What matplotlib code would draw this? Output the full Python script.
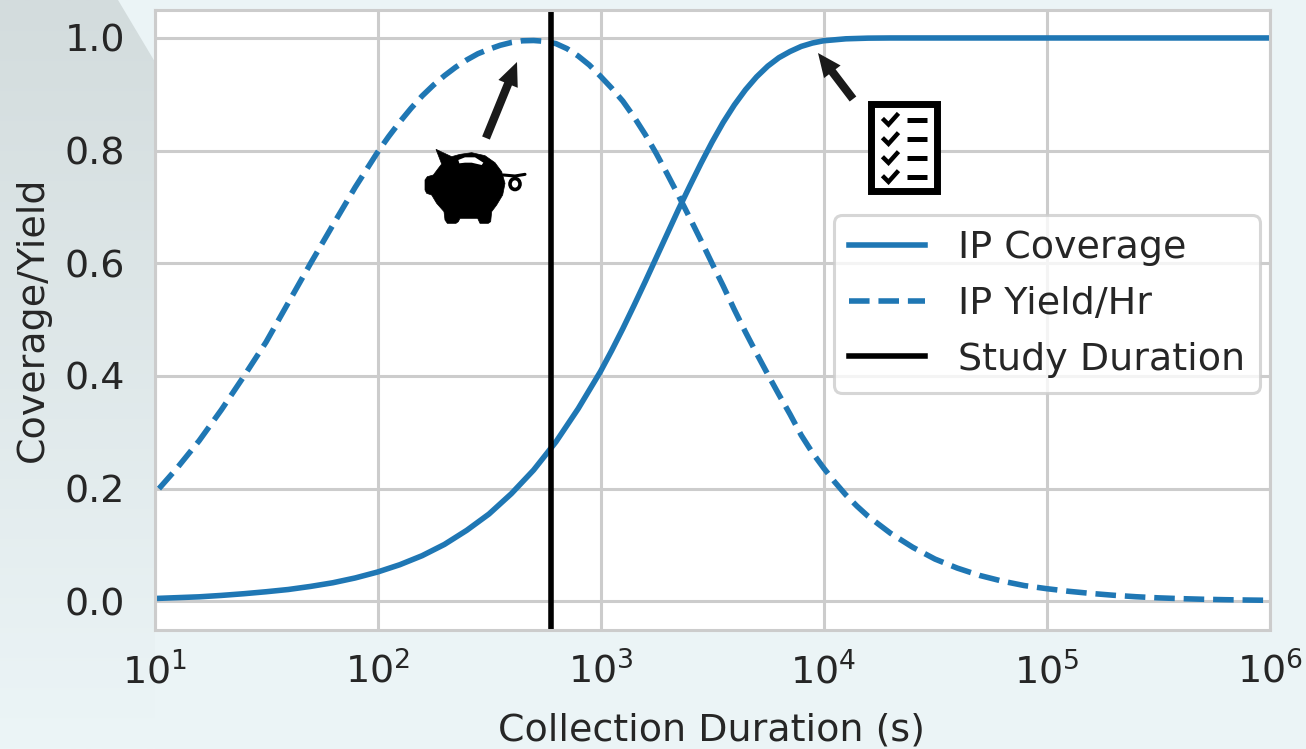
import numpy as np
import matplotlib
matplotlib.use('Agg')
import matplotlib.pyplot as plt
from matplotlib.patches import Polygon, Ellipse, Rectangle

cov_logt = [1.0, 1.1, 1.2, 1.3, 1.4, 1.5, 1.6, 1.7, 1.8, 1.9, 2.0, 2.1, 2.2, 2.3, 2.4, 2.5, 2.6, 2.7, 2.8, 2.9, 3.0,
            3.05, 3.1, 3.15, 3.2, 3.25, 3.3, 3.35, 3.4, 3.45, 3.5, 3.55, 3.6, 3.65, 3.7, 3.75, 3.8,
            3.85, 3.9, 3.95, 4.0, 4.1, 4.2, 4.3, 6.0]
coverage = [0.005, 0.0065, 0.008, 0.0105, 0.0135, 0.017, 0.021, 0.0265, 0.033, 0.0415, 0.052, 0.065, 0.081, 0.101, 0.126, 0.155, 0.191, 0.233, 0.283, 0.342, 0.408,
            0.445, 0.484, 0.525, 0.567, 0.610, 0.653, 0.696, 0.737, 0.777, 0.815, 0.850, 0.881, 0.908, 0.931, 0.950, 0.965,
            0.976, 0.985, 0.991, 0.995, 0.9985, 0.9997, 1.0, 1.0]

yield_logt = [1.02, 1.1, 1.2, 1.3, 1.4, 1.5, 1.6, 1.7, 1.8, 1.9, 2.0, 2.05, 2.1, 2.15, 2.2, 2.25, 2.3, 2.35, 2.4, 2.45,
              2.5, 2.55, 2.6, 2.65, 2.7, 2.75, 2.8, 2.85, 2.9, 2.95, 3.0, 3.05, 3.1, 3.15, 3.2, 3.25, 3.3, 3.35, 3.4, 3.45,
              3.5, 3.55, 3.6, 3.65, 3.7, 3.75, 3.8, 3.85, 3.9, 3.95, 4.0, 4.05, 4.1, 4.15, 4.2, 4.3, 4.4, 4.5, 4.6, 4.7,
              4.8, 4.9, 5.0, 5.1, 5.2, 5.3, 5.4, 5.5, 5.6, 5.7, 5.8, 5.9, 6.0]
ip_yield = [0.200, 0.236, 0.285, 0.340, 0.399, 0.460, 0.530, 0.600, 0.668, 0.735, 0.797, 0.825, 0.851, 0.875, 0.897, 0.916, 0.933, 0.948, 0.961, 0.972,
            0.980, 0.987, 0.992, 0.995, 0.9955, 0.994, 0.990, 0.981, 0.968, 0.952, 0.932, 0.911, 0.888, 0.860, 0.829, 0.795, 0.758, 0.720, 0.681, 0.641,
            0.600, 0.560, 0.518, 0.478, 0.440, 0.403, 0.367, 0.332, 0.295, 0.264, 0.237, 0.212, 0.189, 0.169, 0.151, 0.121, 0.096, 0.075, 0.059, 0.046,
            0.036, 0.028, 0.0225, 0.0178, 0.014, 0.0108, 0.0082, 0.0062, 0.0048, 0.0037, 0.0029, 0.0023, 0.0018]

study_duration = 600
yticks = [0.0, 0.2, 0.4, 0.6, 0.8, 1.0]
xticks = [1e1, 1e2, 1e3, 1e4, 1e5, 1e6]

W, H = 1306, 749
BLUE = '#1f77b4'
GRID = '#cccccc'
TEXT = '#262626'
FS = 27.4
plt.rcParams['font.family'] = 'DejaVu Sans'
plt.rcParams['font.size'] = FS

fig = plt.figure(figsize=(W / 100, H / 100), dpi=100, facecolor='#ebf4f6')

# background with the darker corner, pixel coordinates
bg = fig.add_axes([0, 0, 1, 1], zorder=0)
bg.set_xlim(0, W)
bg.set_ylim(H, 0)
bg.axis('off')
top_col = np.array([211, 220, 221]) / 255
bot_col = np.array([236, 245, 247]) / 255
t = np.linspace(0, 1, 256)[:, None, None]
grad = top_col[None, None, :] * (1 - t) + bot_col[None, None, :] * t
im = bg.imshow(grad, extent=(0, W, H, 0), aspect='auto', interpolation='bilinear')
corner = Polygon([(0, 0), (118, 0), (155, 62), (155, H), (0, H)], transform=bg.transData, fc='none', ec='none')
bg.add_patch(corner)
im.set_clip_path(corner)

# main chart
ax = fig.add_axes([154.5 / W, 1 - 629.5 / H, (1269.5 - 154.5) / W, (629.5 - 9.8) / H], zorder=1, facecolor='white')
ax.plot(10 ** np.array(cov_logt), coverage, color=BLUE, lw=4, label='IP Coverage')
ax.plot(10 ** np.array(yield_logt), ip_yield, color=BLUE, lw=4, ls='--', label='IP Yield/Hr')
ax.axvline(study_duration, color='black', lw=4, label='Study Duration')
ax.set_xscale('log')
ax.set_xlim(1e1, 1e6)
ax.set_ylim(-0.05, 1.05)
ax.set_xticks(xticks)
ax.set_yticks(yticks)
ax.minorticks_off()
ax.grid(True, color=GRID, lw=2.2)
ax.set_axisbelow(True)
ax.tick_params(length=0, labelsize=FS, labelcolor=TEXT)
ax.tick_params(axis='x', pad=16)
ax.tick_params(axis='y', pad=21)
for s in ax.spines.values():
    s.set_color(GRID)
    s.set_linewidth(2.2)
ax.set_xlabel('Collection Duration (s)', fontsize=FS, color=TEXT, labelpad=15)
ax.set_ylabel('Coverage/Yield', fontsize=FS, color=TEXT, labelpad=10)
leg = ax.legend(loc='upper left', bbox_to_anchor=(834 / W, 1 - 215 / H), bbox_transform=fig.transFigure,
                borderaxespad=0, fontsize=FS, labelcolor=TEXT, framealpha=0.8, edgecolor=GRID, fancybox=True,
                handletextpad=0.85, labelspacing=0.52)
leg.get_frame().set_linewidth(2.2)

# icons and arrows, pixel coordinates
ov = fig.add_axes([0, 0, 1, 1], zorder=2, facecolor='none')
ov.set_xlim(0, W)
ov.set_ylim(H, 0)
ov.axis('off')

arrow = dict(facecolor='#1a1a1a', edgecolor='none', width=6, headwidth=15, headlength=17, shrink=0)
ov.annotate('', xy=(517, 62), xytext=(486, 138), arrowprops=arrow)
ov.annotate('', xy=(818, 53), xytext=(853, 99), arrowprops=arrow)


def pig_px(pts):
    return [(400 + x / 3, 40 + y / 3) for x, y in pts]


# piggy bank
pig_outline = [(108, 328), (155, 350), (180, 343), (215, 338), (255, 347), (285, 368), (305, 395), (315, 430),
               (308, 465), (290, 495), (275, 515), (272, 545), (265, 550), (240, 550), (233, 535), (180, 535),
               (175, 545), (168, 550), (142, 550), (135, 540), (132, 515), (110, 490), (95, 465), (80, 460),
               (75, 450), (75, 420), (82, 410), (100, 405), (115, 385), (125, 372)]
pig_slot = [(175, 360), (195, 352), (225, 352), (250, 368), (245, 375), (215, 368), (195, 368), (178, 370)]
ov.add_patch(Polygon(pig_px(pig_outline), fc='black', ec='black', lw=0.5))
ov.add_patch(Polygon(pig_px(pig_slot), fc='white', ec='none'))
ov.plot(*zip(*pig_px([(310, 405), (345, 408), (375, 403)])), color='black', lw=2.2, solid_capstyle='round')
ov.add_patch(Ellipse((515, 184), 10, 11, fc='white', ec='black', lw=2.6))

# checklist
ov.add_patch(Rectangle((871, 104), 66, 87, fc='white', ec='black', lw=5, joinstyle='miter'))
for row_y in [120, 139.3, 158.3, 177.3]:
    ov.plot([884, 888.5, 897], [row_y, row_y + 4.5, row_y - 5], color='black', lw=3.2, solid_joinstyle='miter')
    ov.plot([907, 927], [row_y, row_y], color='black', lw=3.6, solid_capstyle='butt')

fig.savefig('out.png', dpi=100, facecolor=fig.get_facecolor())
